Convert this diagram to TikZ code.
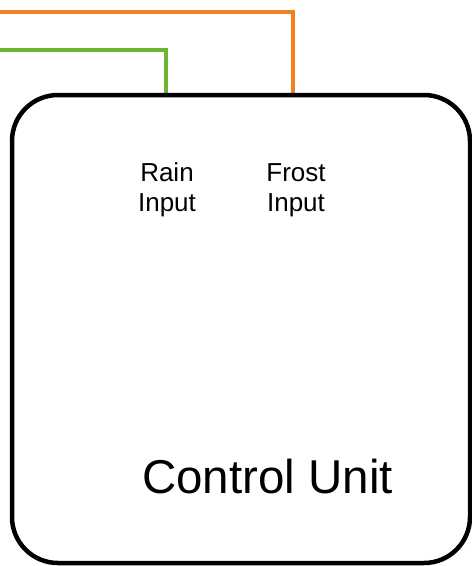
\documentclass[tikz,border=0pt]{standalone}
\usepackage{fontspec}
\setmainfont{Liberation Sans}
\usepackage{tikz}
\usepackage{xcolor}
\definecolor{frostwire}{RGB}{242,128,32}
\definecolor{rainwire}{RGB}{106,180,46}

\begin{document}
\begin{tikzpicture}[x=1pt, y=-1pt]
	\useasboundingbox (0,0) rectangle (472,566);
	\coordinate (frostend) at (0,12);
	\coordinate (rainend) at (0,50);
	\coordinate (frostin) at (293,95);
	\coordinate (rainin) at (166,95);
	\draw [frostwire, line width=3.3pt] (frostend) -| (frostin);
	\draw [rainwire, line width=3.3pt] (rainend) -| (rainin);
	\path (241,329) node [draw, line width=4.5pt, rounded corners=46pt, minimum width=458pt, minimum height=468pt, inner sep=0pt] (cu) {};
	\path (167,190) node [align=center, font=\fontsize{26}{30}\selectfont] (rainlbl) {Rain\\Input};
	\path (296,190) node [align=center, font=\fontsize{26}{30}\selectfont] (frostlbl) {Frost\\Input};
	\path (267.5,493) node [anchor=base, font=\fontsize{47.5}{57}\selectfont] (cutext) {Control Unit};
\end{tikzpicture}
\end{document}
